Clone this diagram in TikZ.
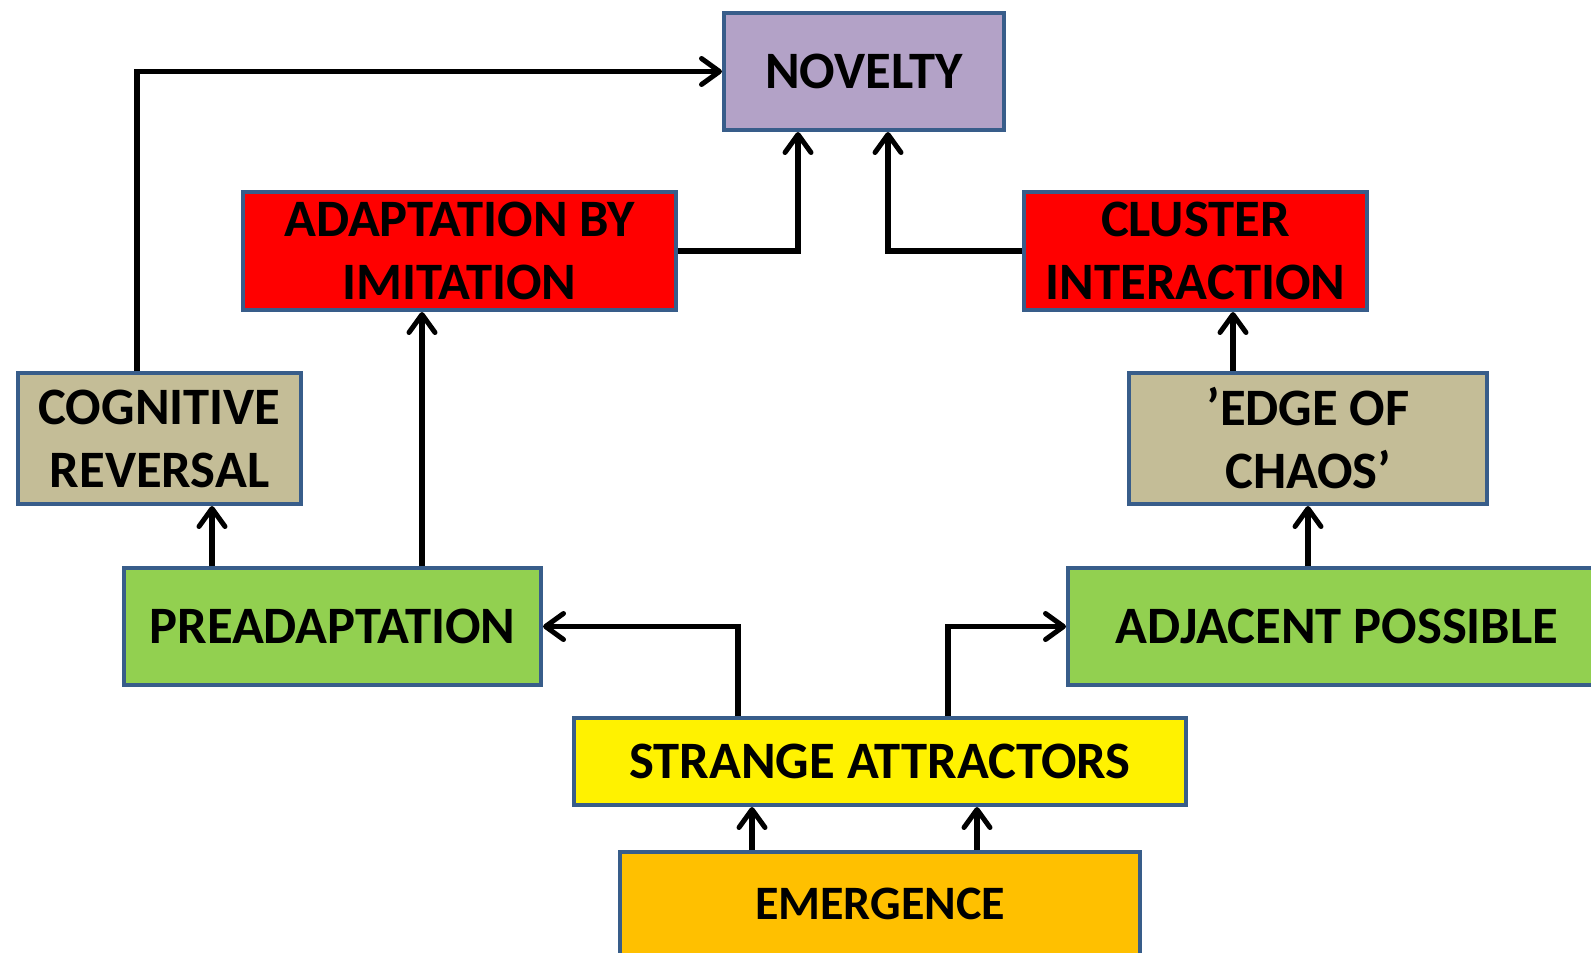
\documentclass[tikz,border=0pt]{standalone}
\usepackage{fontspec}
\setmainfont{Carlito}
\definecolor{boxblue}{RGB}{56,93,138}
\definecolor{novlilac}{RGB}{179,162,199}
\definecolor{khakitan}{RGB}{196,189,151}
\definecolor{leafgreen}{RGB}{146,208,80}
\definecolor{amberorange}{RGB}{255,192,0}
\usepackage{tikz}
\usetikzlibrary{shapes,arrows.meta,positioning,calc}
\usepackage{xcolor}
\tikzset{
    conceptbox/.style={draw=boxblue,line width=2pt,inner sep=0pt,align=center,
                       font=\fontsize{26.3}{31.5}\selectfont\bfseries},
    flow/.style={line width=2.8pt,
                 -{Straight Barb[length=9pt,width=13pt,line width=2.5pt,round]}}
}

\begin{document}
\begin{tikzpicture}[x=0.5pt,y=-0.5pt]
                \useasboundingbox (0,0) rectangle (1591,953);
                \clip (0,0) rectangle (1591,953);
                % boxes
                \node[conceptbox,fill=novlilac,minimum width=140pt,minimum height=58.5pt]
                    (nov) at (864,71.5) {NOVELTY};
                \node[conceptbox,fill=red,minimum width=216.5pt,minimum height=59pt]
                    (ada) at (459.5,251) {ADAPTATION BY\\IMITATION};
                \node[conceptbox,fill=red,minimum width=171.5pt,minimum height=59pt]
                    (clu) at (1195.5,251) {CLUSTER\\INTERACTION};
                \node[conceptbox,fill=khakitan,minimum width=141.5pt,minimum height=65.5pt]
                    (cog) at (159.5,438.5) {COGNITIVE\\REVERSAL};
                \node[conceptbox,fill=khakitan,minimum width=179pt,minimum height=65.5pt]
                    (edge) at (1308,438.5) {’EDGE OF\\CHAOS’};
                \node[conceptbox,fill=leafgreen,minimum width=208.5pt,minimum height=58.5pt]
                    (pre) at (332.5,626.5) {PREADAPTATION};
                \node[conceptbox,fill=leafgreen,minimum width=269pt,minimum height=58.5pt]
                    (adj) at (1337,626.5) {ADJACENT POSSIBLE};
                \node[conceptbox,fill=yellow,minimum width=306pt,minimum height=43.5pt]
                    (str) at (880,761.5) {STRANGE ATTRACTORS};
                \node[conceptbox,fill=amberorange,minimum width=260pt,minimum height=52pt,
                      font=\fontsize{24}{29}\selectfont\bfseries]
                    (eme) at (880,904) {EMERGENCE};
                % arrows
                \draw[flow] ($(eme.north)+(-128,0)$) -- ($(str.south)+(-128,0)$);
                \draw[flow] ($(eme.north)+(97,0)$) -- ($(str.south)+(97,0)$);
                \draw[flow] ($(str.north)+(-142,0)$) |- (pre.east);
                \draw[flow] ($(str.north)+(68,0)$) |- (adj.west);
                \draw[flow] ($(pre.north)+(-120.5,0)$) -- ($(cog.south)+(52.5,0)$);
                \draw[flow] ($(pre.north)+(89.5,0)$) -- ($(ada.south)+(-37.5,0)$);
                \draw[flow] ($(adj.north)+(-29,0)$) -- (edge.south);
                \draw[flow] ($(edge.north)+(-75,0)$) -- ($(clu.south)+(37.5,0)$);
                \draw[flow] ($(cog.north)+(-22.5,0)$) |- (nov.west);
                \draw[flow] (ada.east) -| ($(nov.south)+(-66,0)$);
                \draw[flow] (clu.west) -| ($(nov.south)+(24,0)$);
            \end{tikzpicture}
\end{document}
